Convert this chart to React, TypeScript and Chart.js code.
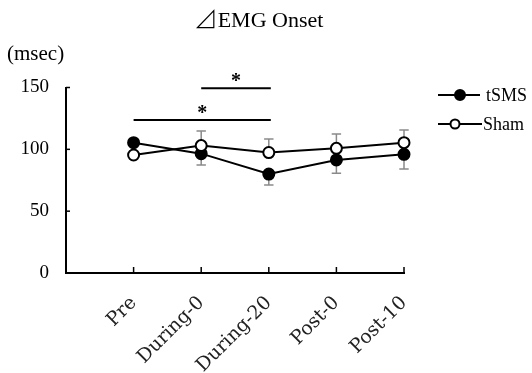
import React, { useEffect, useRef } from 'react';
import { Chart, registerables } from 'chart.js';

Chart.register(...registerables);

const categories = ['Pre', 'During-0', 'During-20', 'Post-0', 'Post-10'];
const tsmsMean = [105.4, 96.5, 80, 91.4, 96];
const shamMean = [95.4, 103, 97.4, 100.8, 105.4];
const tsmsErr = [0, 9.2, 8.8, 10.8, 11.9]; // drawn downward
const shamErr = [0, 11.8, 11, 11.6, 10.2]; // drawn upward
const yTicks = [0, 50, 100, 150];
const sigFrom = [0, 1];
const sigTo = [2, 2];
const sigLevel = [123.7, 149.3];
const sigLabel = ['*', '*'];
const seriesNames = ['tSMS', 'Sham'];
const titleMark = '⊿';
const titleText = 'EMG Onset';
const unitText = '(msec)';

const SERIF = '"Liberation Serif", serif';
const XFONT = '"DejaVu Serif", serif';
const CJK = '"Noto Sans CJK JP", sans-serif';

const overlay = {
  id: 'overlay',
  beforeDatasetsDraw(chart: any) {
    const ctx = chart.ctx;
    const x = chart.scales.x;
    const y = chart.scales.y;
    ctx.save();
    ctx.strokeStyle = '#8a8a8a';
    ctx.lineWidth = 1.5;
    const cap = 4.7;
    const drawBar = (i: number, from: number, to: number) => {
      const px = x.getPixelForValue(i + 1);
      const p1 = y.getPixelForValue(from);
      const p2 = y.getPixelForValue(to);
      ctx.beginPath();
      ctx.moveTo(px, p1);
      ctx.lineTo(px, p2);
      ctx.moveTo(px - cap, p2);
      ctx.lineTo(px + cap, p2);
      ctx.stroke();
    };
    categories.forEach((_, i) => {
      if (tsmsErr[i] > 0) drawBar(i, tsmsMean[i], tsmsMean[i] - tsmsErr[i]);
      if (shamErr[i] > 0) drawBar(i, shamMean[i], shamMean[i] + shamErr[i]);
    });
    ctx.restore();
  },
  afterDraw(chart: any) {
    const ctx = chart.ctx;
    const x = chart.scales.x;
    const y = chart.scales.y;
    const area = chart.chartArea;
    ctx.save();
    ctx.fillStyle = '#000';
    ctx.strokeStyle = '#000';

    // inward tick marks
    ctx.lineWidth = 1.5;
    yTicks.forEach((v) => {
      if (v === 0) return;
      const py = y.getPixelForValue(v);
      ctx.beginPath();
      ctx.moveTo(area.left, py);
      ctx.lineTo(area.left + 4, py);
      ctx.stroke();
    });
    categories.forEach((_, i) => {
      const px = x.getPixelForValue(i + 1);
      ctx.beginPath();
      ctx.moveTo(px, area.bottom);
      ctx.lineTo(px, area.bottom - 6);
      ctx.stroke();
    });

    // title
    ctx.textBaseline = 'alphabetic';
    ctx.textAlign = 'left';
    ctx.font = '200 24px ' + CJK;
    const wMark = ctx.measureText(titleMark).width;
    ctx.font = '22px ' + SERIF;
    const wText = ctx.measureText(titleText).width;
    const startX = 258.5 - (wMark + wText) / 2;
    ctx.font = '200 24px ' + CJK;
    ctx.fillText(titleMark, startX, 28);
    ctx.font = '22px ' + SERIF;
    ctx.fillText(titleText, startX + wMark, 27);

    // unit
    ctx.font = '21px ' + SERIF;
    ctx.textAlign = 'left';
    ctx.fillText(unitText, 7, 60);

    // significance bars
    ctx.lineWidth = 2;
    sigFrom.forEach((f, k) => {
      const x1 = x.getPixelForValue(f + 1);
      const x2 = x.getPixelForValue(sigTo[k] + 1) + 2;
      const py = y.getPixelForValue(sigLevel[k]);
      ctx.beginPath();
      ctx.moveTo(x1, py);
      ctx.lineTo(x2, py);
      ctx.stroke();
      ctx.font = 'bold 20px ' + SERIF;
      ctx.textAlign = 'center';
      ctx.textBaseline = 'alphabetic';
      ctx.fillText(sigLabel[k], (x1 + x2) / 2, py - 1);
    });

    // legend
    const rows = [
      { y: 95, fill: true, cx: 460, r: 5, x2: 480 },
      { y: 124, fill: false, cx: 455, r: 4.5, x2: 482 },
    ];
    rows.forEach((row, k) => {
      ctx.lineWidth = 2;
      ctx.beginPath();
      ctx.moveTo(438, row.y);
      ctx.lineTo(row.x2, row.y);
      ctx.stroke();
      ctx.beginPath();
      ctx.arc(row.cx, row.y, row.r, 0, Math.PI * 2);
      ctx.fillStyle = row.fill ? '#000' : '#fff';
      ctx.fill();
      ctx.stroke();
      ctx.fillStyle = '#000';
      ctx.font = '18px ' + SERIF;
      ctx.textAlign = 'left';
      ctx.textBaseline = 'middle';
      ctx.fillText(seriesNames[k], k === 0 ? 486 : 483, row.y + 1);
    });
    ctx.restore();
  },
};

export default function App() {
  const ref = useRef<HTMLCanvasElement>(null);
  useEffect(() => {
    document.body.style.margin = '0';
    const labels = ['', ...categories];
    const chart = new Chart(ref.current!, {
      type: 'line',
      data: {
        labels,
        datasets: [
          {
            label: seriesNames[1],
            data: [null, ...shamMean],
            borderColor: '#000',
            backgroundColor: '#fff',
            pointBackgroundColor: '#fff',
            pointBorderColor: '#000',
            borderWidth: 2,
            pointBorderWidth: 2,
            pointRadius: 5.5,
          },
          {
            label: seriesNames[0],
            data: [null, ...tsmsMean],
            borderColor: '#000',
            backgroundColor: '#000',
            pointBackgroundColor: '#000',
            pointBorderColor: '#000',
            borderWidth: 2,
            pointBorderWidth: 2,
            pointRadius: 5.5,
          },
        ],
      },
      options: {
        responsive: false,
        animation: false,
        devicePixelRatio: 1,
        layout: { padding: { left: 0, right: 128, top: 87.5, bottom: 0 } },
        plugins: {
          legend: { display: false },
          title: { display: false },
          tooltip: { enabled: false },
        },
        scales: {
          x: {
            type: 'category',
            offset: false,
            grid: { display: false },
            border: { display: true, color: '#000', width: 2 },
            ticks: {
              autoSkip: false,
              maxRotation: 45,
              minRotation: 45,
              padding: 11,
              color: '#222',
              font: { family: XFONT, size: 19 },
            },
            afterFit: (s: any) => {
              s.height = 100;
            },
          },
          y: {
            min: 0,
            max: 150,
            grid: { display: false },
            border: { display: true, color: '#000', width: 2 },
            afterBuildTicks: (s: any) => {
              s.ticks = yTicks.map((v) => ({ value: v }));
            },
            ticks: {
              padding: 9,
              color: '#000',
              font: { family: SERIF, size: 19 },
            },
            afterFit: (s: any) => {
              s.width = 66;
            },
          },
        },
      },
      plugins: [overlay],
    } as any);
    return () => chart.destroy();
  }, []);
  return (
    <div style={{ width: 532, height: 373 }}>
      <canvas ref={ref} width={532} height={373} style={{ display: 'block' }} />
    </div>
  );
}
